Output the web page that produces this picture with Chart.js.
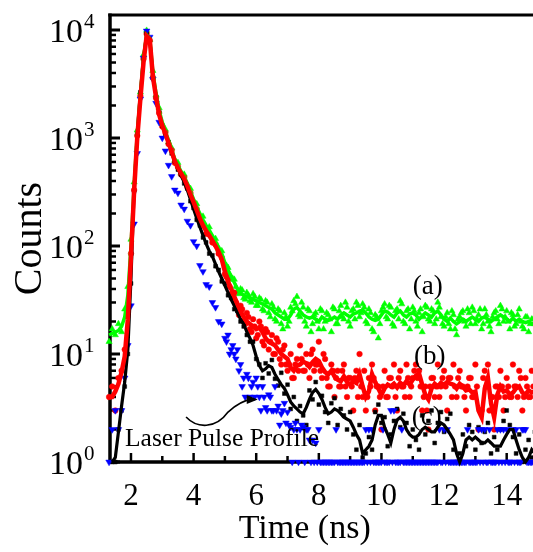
<!DOCTYPE html>
<html><head><meta charset="utf-8">
<script src="https://cdn.jsdelivr.net/npm/chart.js@4.4.0/dist/chart.umd.min.js"></script>
<style>html,body{margin:0;padding:0;background:#fff;overflow:hidden}canvas{display:block}</style>
</head><body>
<canvas id="c" width="545" height="552" style="width:545px;height:552px"></canvas>
<script>
// time grid (ns): 1.3 .. 14.9, step 0.1
const time = Array.from({length:137},(_,i)=>+(1.3+0.1*i).toFixed(1));
// offset grid for the dense tail points: 5.05 .. 14.85
const timeB = Array.from({length:99},(_,i)=>+(5.05+0.1*i).toFixed(2));

const redLine = [4.0,4.0,4.5,5.3,6.8,9.5,21,80,320,1000,
2300,5000,8800,8200,3700,2400,1650,1300,1100,900,
750,610,530,470,420,360,300,255,215,180,
155,138,125,112,100,88,75,58,47,40,
34,29,25,22,20,19,18,17,17.5,16,
14,13,12.5,12,11,10,9.5,9,7.5,7,
7.8,8,8.5,8.2,7.6,8.4,9,8.6,7.5,6.8,
6.5,7,6.2,5.8,5.6,6.2,5.5,5.2,5.6,5.4,
6.5,5,4.0,4.5,6.5,5.5,4.8,4.2,4.8,5.2,
5,5.3,4.9,5.4,5.1,5.6,5.2,5.8,6.3,6.6,
5.2,4.2,3.8,4.8,5.3,5.0,5.4,5.2,5.5,5.3,
5.2,4.8,5.3,5.0,4.6,4.7,4.4,4.5,3.0,2.6,
4.8,6.0,3.5,2.6,4.2,5.0,4.5,4.6,4.2,4.4,
4.8,5.0,4.4,4.2,4.6,4.4,4.5];

const greenLine = [15,15.5,16,16.5,18,22,35,100,360,1100,
2500,5500,9000,8400,4000,2600,1800,1400,1150,950,
780,640,560,490,440,380,320,270,230,200,
175,155,140,125,110,98,85,70,60,52,
46,40,37,35,34,33,32,31,30,29,
28,27,26,24,23,22,21,21,23,26,
27,25,23,22,21.5,22,21,20,22,21,
20.5,21,22,21,23,24,23,22,23.5,24,
25,25.5,24,22,21,20.5,21,23,25,24.5,
23,22,24,25,23,22,23.5,24,23,21,
22.5,24,23,22,24,25,23,21,20,21.5,
20,19,20,21,20,21,22,21,20,21.5,
22,21,20,21,22,23,22,21,20,21.5,
20,21,20,19.5,20,19,19.5];

const blackLine = [null,1.0,1.1,1.9,3.3,5.5,11,50,330,1100,
2600,5600,9000,8300,3800,2450,1700,1320,1100,900,
740,600,520,450,390,330,270,220,180,150,
125,105,90,80,68,58,50,43,37,32,
28,24,21,19,16,14,12,9.5,7.8,7,
7.3,7.8,7.5,6.5,5.8,5.2,4.8,4.2,3.6,3.3,
3.1,2.9,2.8,3.2,3.8,4.4,4.7,4.3,3.8,3.2,
2.8,2.9,3.1,3.0,2.8,2.6,2.5,2.4,2.1,1.8,
1.6,1.2,1.3,1.4,1.6,2.2,2.7,2.7,2.1,1.8,
1.5,2.0,2.45,2.6,2.4,2.0,1.8,1.7,1.7,1.8,
2.0,2.1,2.0,1.9,1.9,2.1,2.3,2.2,2.0,1.8,
1.6,1.2,1.0,1.2,1.6,1.7,1.6,1.7,1.6,1.5,
1.5,1.6,1.5,1.4,1.4,1.4,1.6,1.8,2.0,2.0,
1.6,1.3,1.1,1.0,1.1,1.3,1.2];

const greenPts = [13,17,15,19,16,26,42,115,390,1180,
2650,5900,9900,8100,4200,2500,1900,1350,1200,920,
810,620,590,470,460,370,340,262,245,192,
188,148,150,118,117,93,90,66,63,49,
49,38,40,33,37,31,36,28,33,26,
31,24,29,21,26,19,24,18,27,31,
34,22,27,18,25,19,24,17,25,20,
23,16,26,19,28,21,27,18,26,30,
22,29,20,26,17,23,14,25,29,21,
27,18,26,31,20,25,17,27,20,24,
16,28,21,26,19,30,22,18,24,17,
23,15,22,25,18,24,27,19,23,17,
26,20,16,24,21,28,20,25,17,23,
19,26,18,22,16,21,19];
const greenPtsB = [66,55,50,42,36,39,32,35,30,34,
28,32,25,30,22,27,20,25,17,22,
20,25,29,23,30,20,26,16,23,20,
26,17,24,21,27,19,25,22,30,20,
25,21,28,24,27,19,24,16,22,19,
27,22,28,19,25,21,29,19,26,21,
25,18,26,22,27,20,25,21,27,19,
22,19,25,17,21,24,20,26,19,25,
21,26,19,23,18,22,25,19,26,22,
20,24,18,23,20,17,22,19,21];

const redPts = [4,5,3,6,7,11,24,85,330,1050,
2450,5400,9200,8000,3600,2350,1700,1280,1120,880,
770,590,540,460,430,350,310,250,220,175,
160,130,128,108,104,85,78,55,50,36,
37,27,28,20,24,17,21,14,20,13,
17,11,15,10,13,8,12,7,10,6,
9,12,7,10,6,11,8,13,6,9,
5,8,4,7,5,8,4,6,3,7,
10,4,3,6,8,3,5,2,7,4,
6,8,3,7,5,8,4,6,8,7,
3,5,2,6,4,8,5,7,3,6,
8,4,7,5,3,6,4,8,2,3,
7,8,4,2,5,7,3,6,4,8,
5,7,3,6,4,7,5];
const redPtsB = [52,42,33,30,23,26,19,22,16,18,
15,18,12,16,13,10,14,9,11,8,
8,6,8,7,9,7,8,10,7,8,
7,10,6,5,7,6,5,7,5,6,
5,6,4,5,7,4,5,6,5,4,
5,4,6,5,4,6,5,4,6,5,
7,6,5,4,3,5,6,5,4,6,
5,6,4,5,6,5,4,5,6,4,
5,3,6,5,3,4,5,4,5,4,
5,4,5,4,6,4,5,4,5];

const blackPts = [null,1,1,2,3,5,10,45,320,1080,
2650,5500,9300,8100,3700,2400,1750,1300,1080,920,
720,610,510,460,380,340,260,225,175,155,
120,108,85,82,65,60,47,45,35,33,
26,25,20,18,15,13,13,9,8,6,
8.2,6.6,8.8,5.9,5.1,6.7,4.3,5.2,3.1,4.0,
2.4,3.3,2.7,2.2,4.6,3.8,5.5,3.4,4.1,2.9,
2.3,3.5,3.9,2.2,3.1,2.7,2.0,2.9,1.8,1.3,
2.2,1.1,1.2,1.7,1.3,2.9,3.4,2.3,2.6,1.4,
1.8,2.4,3.1,2.1,2.8,2.3,1.4,2.0,1.6,1.3,
2.7,1.8,2.4,3.0,1.5,2.3,2.9,1.9,2.5,2.8,
1.3,1.0,1.2,1.8,1.4,2.2,1.9,1.3,2.1,1.5,
1.9,2.3,1.2,1.7,1.3,2.0,2.4,3.0,2.2,1.7,
1.2,1.8,1.0,1.3,1.6,1.1,1.9];

const bluePts = [1,2,3,2,3,6,12,28,160,720,
2300,5500,9800,8600,3500,2100,1400,1000,760,560,
440,330,310,240,220,170,155,110,100,66,
58,44,42,30,27,20,19,14,15,11,
10,11,8,6,6.5,4,5.5,6,4,5,
3.2,4.2,3,5,3.3,2.8,3.5,2.9,2.1,2.0,
2,2,2.1,2,1.6,1.6,1.5,2,1,1,
1,1,1,1,1,1,1,1,1,1,
1,1,2,2,2,1,1,1,1,1,
3,3,1,1,1,1,1,1,1,1,
1,1,1,1,1,1,1,2,2,1,
1,1,1,1,1,1,1,1,2,2,
2,1,1,1,2,2,2,2,1,2,
2,1,2,2,1,1,1];
const bluePtsB = [13,10,12,9,7,5,4,6,5,4,
5,3,4,3,4,3,3,2.2,3,2.3,
2.2,1,2.3,1,2.2,1,2,1,1,1,
1,1,1,1,1,2,1,1,1,1,
1,1,1,1,1,1,1,1,1,1,
2,1,1,1,1,1,2,1,1,1,
1,1,1,1,1,1,1,1,2,1,
1,1,1,1,1,1,1,2,1,1,
1,1,1,1,2,1,1,1,1,1,
1,1,1,1,1,2,1,1,1];

const xTickLabels = [2,4,6,8,10,12,14];
const yDecades = [0,1,2,3,4];
const xTitle = {text:'Time (ns)', x:7.55};
const notes = [
  {text:'(a)', x:11.48, y:42},
  {text:'(b)', x:11.54, y:9.4},
  {text:'(c)', x:11.45, y:2.55}
];
const laserLabel = {text:'Laser Pulse Profile', x:1.81, y:1.41};
// curved pointer (data space): start, controls, end
const pointer = [[3.76,2.61],[4.1,2.05],[4.7,2.0],[5.1,2.9],[5.45,3.6],[5.7,3.75],[6.05,3.8]];

const pts = (tt,arr) => tt.map((t,i)=>({x:t,y:arr[i]}));
const SERIF = '"Liberation Serif", "Times New Roman", serif';
const GREEN = '#00ff00', RED = '#ff0000', BLUE = '#0000ff';

const framePlugin = {
  id:'frame',
  beforeDatasetsDraw(chart){
    const {ctx, chartArea:a, scales:{x,y}} = chart;
    ctx.save();
    ctx.strokeStyle='#000';
    ctx.lineCap='butt';
    ctx.lineWidth=3.5;
    ctx.beginPath();
    ctx.moveTo(a.left, a.top-1.5); ctx.lineTo(a.left, a.bottom+1.7);
    ctx.moveTo(a.left-1.7, a.bottom); ctx.lineTo(a.right+5, a.bottom);
    ctx.stroke();
    ctx.lineWidth=3;
    ctx.beginPath();
    ctx.moveTo(a.left-1.7, a.top); ctx.lineTo(a.right+5, a.top);
    ctx.stroke();
    for(let e=0;e<=4;e++){
      for(let m=1;m<=9;m++){
        const v=m*Math.pow(10,e);
        if(v>y.max) break;
        const py=y.getPixelForValue(v);
        ctx.lineWidth = m===1?3:2.5;
        const len = m===1?10:6;
        ctx.beginPath(); ctx.moveTo(a.left, py); ctx.lineTo(a.left+len, py); ctx.stroke();
      }
    }
    for(let v=2; v<=15; v++){
      const px=x.getPixelForValue(v);
      const major = v%2===0;
      ctx.lineWidth = 2.5;
      ctx.beginPath(); ctx.moveTo(px, a.bottom); ctx.lineTo(px, a.bottom-(major?9:6)); ctx.stroke();
    }
    ctx.restore();
  },
  afterDraw(chart){
    const {ctx, chartArea:a, scales:{x,y}} = chart;
    ctx.save();
    ctx.fillStyle='#000';
    yDecades.forEach(e=>{
      const py=y.getPixelForValue(Math.pow(10,e));
      ctx.font='34px '+SERIF; ctx.textAlign='right'; ctx.textBaseline='alphabetic';
      ctx.fillText('10', 83, py+12);
      ctx.font='21px '+SERIF; ctx.textAlign='left';
      ctx.fillText(String(e), 84, py-2);
    });
    ctx.font='34px '+SERIF; ctx.textAlign='center'; ctx.textBaseline='alphabetic';
    ctx.fillText(xTitle.text, x.getPixelForValue(xTitle.x), a.bottom+76);
    ctx.font='27px '+SERIF; ctx.textAlign='center'; ctx.textBaseline='middle';
    notes.forEach(n=>ctx.fillText(n.text, x.getPixelForValue(n.x), y.getPixelForValue(n.y)));
    ctx.font='25.5px '+SERIF; ctx.textAlign='left'; ctx.textBaseline='alphabetic';
    ctx.fillText(laserLabel.text, x.getPixelForValue(laserLabel.x), y.getPixelForValue(laserLabel.y));
    const P = pointer.map(p=>[x.getPixelForValue(p[0]), y.getPixelForValue(p[1])]);
    ctx.strokeStyle='#000'; ctx.lineWidth=1.6;
    ctx.beginPath(); ctx.moveTo(P[0][0],P[0][1]);
    ctx.bezierCurveTo(P[1][0],P[1][1],P[2][0],P[2][1],P[3][0],P[3][1]);
    ctx.bezierCurveTo(P[4][0],P[4][1],P[5][0],P[5][1],P[6][0]-6,P[6][1]);
    ctx.stroke();
    const tip=P[6];
    ctx.beginPath(); ctx.moveTo(tip[0],tip[1]); ctx.lineTo(tip[0]-11,tip[1]-4.5); ctx.lineTo(tip[0]-11,tip[1]+4.5); ctx.closePath(); ctx.fill();
    ctx.restore();
  }
};

new Chart(document.getElementById('c'),{
  type:'scatter',
  data:{datasets:[
    {type:'line', data:pts(time,redLine), borderColor:RED, borderWidth:4.5, pointRadius:0, fill:false, order:0, clip:false},
    {type:'line', data:pts(time,greenLine), borderColor:GREEN, borderWidth:3.5, pointRadius:0, fill:false, order:1, clip:false},
    {type:'line', data:pts(time,blackLine), borderColor:'#000000', borderWidth:3.2, pointRadius:0, fill:false, order:2, clip:false},
    {data:pts(time,bluePts), pointStyle:'triangle', rotation:180, radius:3.8, backgroundColor:BLUE, borderColor:BLUE, borderWidth:0.5, order:3, clip:false},
    {data:pts(timeB,bluePtsB), pointStyle:'triangle', rotation:180, radius:3.8, backgroundColor:BLUE, borderColor:BLUE, borderWidth:0.5, order:3, clip:false},
    {data:pts(time,blackPts), pointStyle:'rect', radius:2.7, backgroundColor:'#000', borderColor:'#000', borderWidth:0.5, order:4, clip:false},
    {data:pts(time,redPts), pointStyle:'circle', radius:2.8, backgroundColor:RED, borderColor:RED, borderWidth:0.5, order:5, clip:false},
    {data:pts(timeB,redPtsB), pointStyle:'circle', radius:2.8, backgroundColor:RED, borderColor:RED, borderWidth:0.5, order:5, clip:false},
    {data:pts(time,greenPts), pointStyle:'triangle', radius:3.6, backgroundColor:GREEN, borderColor:GREEN, borderWidth:0.5, order:6, clip:false},
    {data:pts(timeB,greenPtsB), pointStyle:'triangle', radius:3.6, backgroundColor:GREEN, borderColor:GREEN, borderWidth:0.5, order:6, clip:false}
  ]},
  options:{
    responsive:false, animation:false, devicePixelRatio:1,
    layout:{padding:{top:15,right:7,left:0,bottom:0}},
    plugins:{legend:{display:false}, tooltip:{enabled:false}},
    scales:{
      x:{type:'linear', min:1.33, max:15,
        grid:{display:false, drawTicks:false}, border:{display:false},
        afterBuildTicks(s){ s.ticks = xTickLabels.map(v=>({value:v})); },
        ticks:{font:{family:SERIF,size:31}, color:'#000', padding:16, maxRotation:0, autoSkip:false},
        title:{display:false},
        afterFit(s){ s.height=90; }
      },
      y:{type:'logarithmic', min:1, max:13770,
        grid:{display:false, drawTicks:false}, border:{display:false},
        ticks:{display:false},
        title:{display:true, text:'Counts', font:{family:SERIF,size:40}, color:'#000', padding:{top:6,bottom:0}},
        afterFit(s){ s.width=110; }
      }
    }
  },
  plugins:[framePlugin]
});
</script>
</body></html>
